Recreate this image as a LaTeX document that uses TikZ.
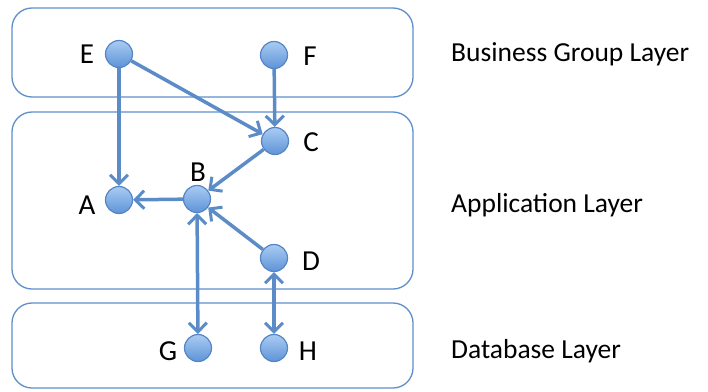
\documentclass[tikz,border=0pt]{standalone}
\usepackage{fontspec}
\setmainfont{Carlito}
\usetikzlibrary{arrows.meta}
\definecolor{edgeblue}{HTML}{5B8CC8}
\definecolor{boxblue}{HTML}{5E8FCB}
\definecolor{balltop}{HTML}{A9CBF2}
\definecolor{ballbot}{HTML}{5E94D8}
\definecolor{ballrim}{HTML}{5585C4}
\tikzset{
  layer/.style={draw=boxblue, line width=1.3pt, rounded corners=20pt},
  vert/.style={circle, minimum size=27pt, inner sep=0pt, draw=ballrim, line width=1.2pt, top color=balltop, bottom color=ballbot},
  lbl/.style={font=\fontsize{29}{29}\selectfont, inner sep=0pt},
  layername/.style={font=\fontsize{27.5}{28}\selectfont, anchor=west, inner sep=0pt},
  conn/.style={draw=edgeblue, line width=3.5pt, -{Straight Barb[length=9pt,width=18pt,line width=3pt]}},
  conn2/.style={draw=edgeblue, line width=3.5pt, {Straight Barb[length=9pt,width=18pt,line width=3pt]}-{Straight Barb[length=9pt,width=18pt,line width=3pt]}}
}
\begin{document}
\begin{tikzpicture}[x=1pt,y=-1pt]
\useasboundingbox (0,0) rectangle (708,391);
\draw[layer] (12,8) rectangle (413,97);
\draw[layer] (12,112) rectangle (413,289);
\draw[layer] (12,303) rectangle (413,388);
\node[vert] (E) at (119,54) {};
\node[vert] (F) at (274,55) {};
\node[vert] (C) at (275,141) {};
\node[vert] (B) at (197,199) {};
\node[vert] (A) at (119,200) {};
\node[vert] (D) at (274,258) {};
\node[vert] (G) at (198,348) {};
\node[vert] (H) at (274,348) {};
\node[lbl] (lE) at (87,54) {E};
\node[lbl] (lF) at (310,56) {F};
\node[lbl] (lC) at (311,142) {C};
\node[lbl] (lB) at (198,172) {B};
\node[lbl] (lA) at (87,205) {A};
\node[lbl] (lD) at (311,261) {D};
\node[lbl] (lG) at (168,351) {G};
\node[lbl] (lH) at (308,351) {H};
\draw[conn] (E) -- (A);
\draw[conn] (E) -- (C);
\draw[conn] (F) -- (C);
\draw[conn] (C) -- (B);
\draw[conn] (B) -- (A);
\draw[conn] (D) -- (B);
\draw[conn2] (B) -- (G);
\draw[conn2] (D) -- (H);
\node[layername] (n1) at (451,54) {Business Group Layer};
\node[layername] (n2) at (451,205) {Application Layer};
\node[layername] (n3) at (451,351) {Database Layer};
\end{tikzpicture}
\end{document}
